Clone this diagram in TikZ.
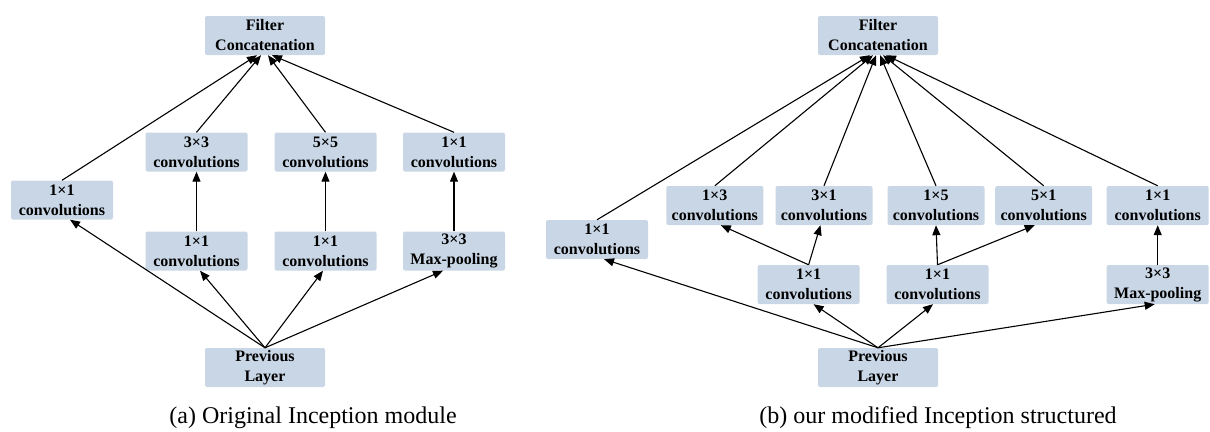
\documentclass[tikz,border=0pt]{standalone}
\usepackage{fontspec}
\setmainfont{Liberation Serif}
\usetikzlibrary{arrows.meta}
\definecolor{boxblue}{RGB}{201,214,229}
\tikzset{
  blk/.style={fill=boxblue, rounded corners=2pt, inner sep=0pt, minimum height=39pt,
    align=center, font=\bfseries\fontsize{16}{20}\selectfont},
  wb/.style={blk, minimum width=102pt},
  nb/.style={blk, minimum width=97pt},
  cb/.style={blk, minimum width=120pt},
  arr/.style={line width=1.1pt, -{Triangle[length=10pt,width=8pt]}},
  captxt/.style={font=\fontsize{24}{28}\selectfont, anchor=base}
}
\begin{document}
\begin{tikzpicture}[x=1pt,y=-1pt]
\useasboundingbox (0,0) rectangle (1210,431);
% ---------- (a) ----------
\node[cb] (fc) at (265,35.5) {Filter\\Concatenation};
\node[cb] (pl) at (265,367.5) {Previous\\Layer};
\node[wb] (c1) at (62,200) {1×1\\convolutions};
\node[wb] (a3) at (196.5,152) {3×3\\convolutions};
\node[wb] (b3) at (325.5,152) {5×5\\convolutions};
\node[wb] (r1) at (454,152) {1×1\\convolutions};
\node[wb] (a1) at (196.5,251) {1×1\\convolutions};
\node[wb] (b1) at (325.5,251) {1×1\\convolutions};
\node[wb] (mp) at (454,251) {3×3\\Max-pooling};
\draw[arr] (pl.north) -- ([xshift=8pt]c1.south);
\draw[arr] (pl.north) -- ([xshift=3.5pt]a1.south);
\draw[arr] (pl.north) -- ([xshift=-2.5pt]b1.south);
\draw[arr] (pl.north) -- ([xshift=-11pt]mp.south);
\draw[arr] (a1.north) -- (a3.south);
\draw[arr] (b1.north) -- (b3.south);
\draw[arr] (mp.north) -- (r1.south);
\draw[arr] (c1.north) -- ([xshift=-8pt]fc.south);
\draw[arr] (a3.north) -- ([xshift=-4pt]fc.south);
\draw[arr] (b3.north) -- ([xshift=3pt]fc.south);
\draw[arr] (r1.north) -- ([xshift=7pt]fc.south);
\node[captxt] (capa) at (313,423) {(a) Original Inception module};
% ---------- (b) ----------
\node[cb] (fc2) at (878,35.5) {Filter\\Concatenation};
\node[cb] (pl2) at (878,367.5) {Previous\\Layer};
\node[wb] (c1b) at (597,239.5) {1×1\\convolutions};
\node[nb] (t13) at (714.8,205.5) {1×3\\convolutions};
\node[nb] (t31) at (824,205.5) {3×1\\convolutions};
\node[nb] (t15) at (936,205.5) {1×5\\convolutions};
\node[nb] (t51) at (1043.7,205.5) {5×1\\convolutions};
\node[wb] (t11) at (1157.7,205.5) {1×1\\convolutions};
\node[wb] (m1) at (808.6,284.5) {1×1\\convolutions};
\node[wb] (m2) at (937.5,284.5) {1×1\\convolutions};
\node[wb] (mp2) at (1157.7,284.5) {3×3\\Max-pooling};
\draw[arr] (pl2.north) -- ([xshift=7pt]c1b.south);
\draw[arr] (pl2.north) -- ([xshift=5pt]m1.south);
\draw[arr] (pl2.north) -- ([xshift=-4.5pt]m2.south);
\draw[arr] (pl2.north) -- ([xshift=-3pt]mp2.south);
\draw[arr] (m1.north) -- ([xshift=6pt]t13.south);
\draw[arr] (m1.north) -- ([xshift=-3.5pt]t31.south);
\draw[arr] (m2.north) -- (t15.south);
\draw[arr] (m2.north) -- ([xshift=-9pt]t51.south);
\draw[arr] (mp2.north) -- (t11.south);
\draw[arr] (c1b.north) -- ([xshift=-8pt]fc2.south);
\draw[arr] (t13.north) -- ([xshift=-5pt]fc2.south);
\draw[arr] (t31.north) -- ([xshift=-2pt]fc2.south);
\draw[arr] (t15.north) -- ([xshift=2pt]fc2.south);
\draw[arr] (t51.north) -- ([xshift=5pt]fc2.south);
\draw[arr] (t11.north) -- ([xshift=8pt]fc2.south);
\node[captxt] (capb) at (938,423) {(b) our modified Inception structured};
\end{tikzpicture}
\end{document}
